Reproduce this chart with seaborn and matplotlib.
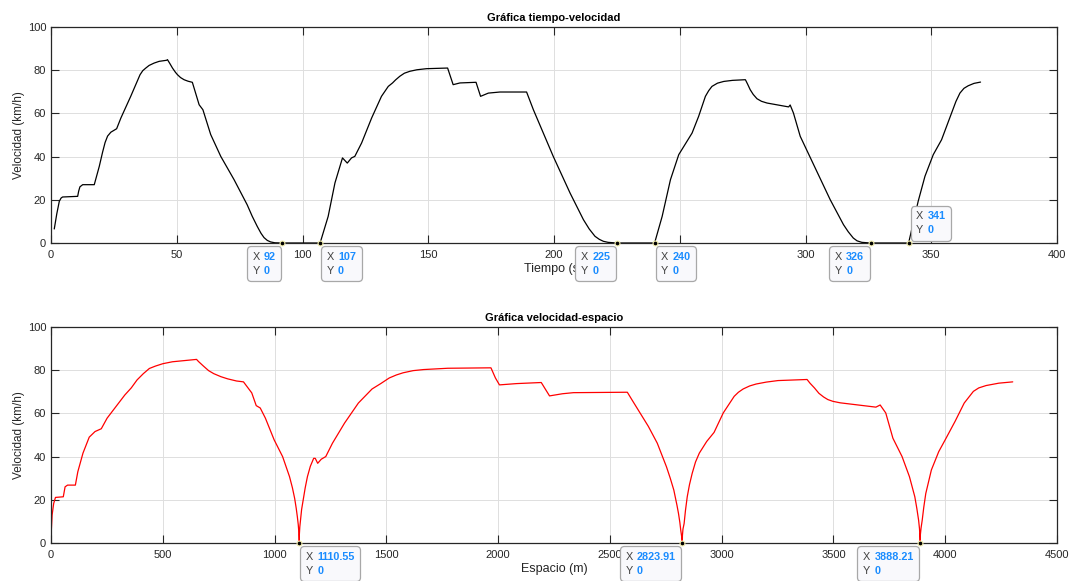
import matplotlib
matplotlib.use("Agg")
import matplotlib.pyplot as plt
import seaborn as sns
from matplotlib.offsetbox import TextArea, HPacker, VPacker, AnnotationBbox

# ── Datos ─────────────────────────────────────────────────────
# Gráfica tiempo-velocidad (cuatro tramos entre paradas)
tiempo = [1.3, 2.3, 3.3, 4.0, 4.6, 10.6, 11.0, 11.5, 12.6, 17.2, 19.2, 20.5,
          21.5, 22.5, 23.8, 26.1, 27.8, 31.7, 35.4, 36.5, 37.7, 39.0, 41.0,
          43.0, 46.0, 46.3, 47.3, 48.3, 49.5, 50.3, 51.5, 52.9, 54.5, 56.2,
          58.9, 60.4, 63.5, 67.5, 72.8, 78.0, 80.0, 82.0, 83.5, 84.7, 86.0,
          87.3, 89.0, 92.0,
          107.0, 110.2, 112.9, 115.9, 117.8, 119.5, 120.8, 123.5, 127.5, 131.4,
          134.1, 135.8, 137.0, 138.7, 140.5, 142.7, 145.5, 149.3, 157.7, 159.9,
          162.6, 169.0, 170.8, 173.9, 178.5, 189.1, 191.8, 199.7, 206.4, 211.7,
          214.0, 216.3, 218.0, 219.6, 221.5, 225.0,
          240.0, 243.0, 246.3, 249.6, 254.9, 257.5, 260.2, 261.5, 262.8, 265.0,
          267.5, 271.0, 276.1, 277.0, 278.0, 279.2, 280.7, 282.5, 284.7, 289.0,
          293.3, 293.9, 295.2, 297.9, 303.2, 309.8, 315.1, 317.0, 319.0, 320.5,
          322.4, 326.0,
          341.0, 344.8, 347.5, 350.8, 354.1, 358.1, 359.8, 361.4, 363.0, 364.7,
          367.0, 369.6]
vel_t = [6.5, 13.5, 19.3, 20.8, 21.3, 21.6, 24.0, 26.0, 27.0, 27.0, 35.5, 42.0,
         46.5, 49.5, 51.3, 52.9, 57.9, 67.9, 77.9, 79.8, 81.0, 82.2, 83.3,
         84.1, 84.6, 84.9, 83.0, 81.0, 79.0, 77.9, 76.6, 75.6, 74.9, 74.4,
         64.0, 61.7, 50.2, 40.1, 29.3, 17.7, 12.4, 7.7, 4.5, 2.5, 1.2,
         0.5, 0.1, 0.0,
         0.0, 12.3, 27.8, 39.4, 37.0, 39.4, 40.1, 46.3, 57.9, 67.9,
         72.5, 74.1, 75.5, 77.2, 78.6, 79.5, 80.2, 80.7, 81.0, 73.3,
         74.1, 74.4, 67.9, 69.4, 69.9, 69.9, 61.7, 40.1, 23.1, 10.8,
         6.5, 3.1, 1.7, 0.8, 0.3, 0.0,
         0.0, 12.3, 29.3, 40.9, 50.9, 58.6, 67.9, 70.5, 72.5, 74.0,
         74.8, 75.3, 75.6, 73.5, 71.0, 68.8, 66.8, 65.6, 64.8, 63.9,
         63.0, 63.9, 60.2, 49.4, 36.3, 20.1, 8.5, 5.2, 2.3, 1.0,
         0.3, 0.0,
         0.0, 19.3, 30.9, 40.9, 47.8, 60.2, 65.5, 69.4, 71.6, 72.8,
         73.9, 74.5]

# Gráfica velocidad-espacio
espacio = [1.5, 5, 12, 20, 55, 63, 74, 109, 120, 143, 171, 197, 225, 251, 297,
           330, 359, 385, 413, 440, 467, 500, 543, 600, 651, 660, 682, 705,
           728, 760, 790, 830, 861, 898, 918, 936, 959, 998, 1036, 1067, 1080,
           1090, 1097, 1102, 1106, 1109, 1110.55,
           1111, 1113, 1116, 1121, 1128, 1137, 1147, 1160, 1175, 1182, 1193,
           1209, 1229, 1259, 1313, 1375, 1436, 1475, 1513, 1545, 1575, 1620,
           1667, 1775, 1968, 1988, 2006, 2083, 2193, 2230, 2288, 2337, 2578,
           2598, 2631, 2672, 2712, 2753, 2770, 2786, 2800, 2807, 2813, 2817,
           2821, 2823.91,
           2824.5, 2827, 2832, 2838, 2846, 2856, 2868, 2883, 2900, 2933, 2966,
           3007, 3056, 3075, 3096, 3125, 3154, 3200, 3252, 3382, 3395, 3415,
           3435, 3456, 3475, 3497, 3530, 3578, 3690, 3709, 3734, 3766, 3807,
           3840, 3864, 3873, 3881, 3885, 3888.21,
           3889, 3892, 3897, 3904, 3913, 3938, 3971, 4000, 4044, 4085, 4126,
           4150, 4183, 4240, 4302]
vel_e = [5.9, 13.0, 18.3, 21.1, 21.4, 26.0, 26.8, 26.8, 33.0, 41.6, 49.0, 51.6,
         52.9, 57.8, 64.0, 68.5, 71.8, 75.5, 78.4, 80.8, 81.9, 83.0, 83.9,
         84.5, 85.0, 84.0, 81.9, 79.8, 78.4, 77.0, 76.0, 75.0, 74.6, 69.5,
         63.6, 62.5, 57.8, 47.8, 40.0, 30.7, 25.5, 20.6, 16.0, 12.1, 8.5,
         4.5, 0.0,
         4.0, 7.5, 10.5, 15.5, 19.8, 25.5, 30.7, 35.5, 39.2, 39.2, 36.9,
         38.8, 40.0, 46.2, 55.5, 64.8, 71.3, 73.8, 76.4, 77.8, 78.8, 79.8,
         80.3, 80.9, 81.1, 76.4, 73.2, 73.8, 74.3, 68.1, 69.1, 69.6, 69.8,
         66.4, 60.9, 54.0, 46.2, 35.3, 30.0, 24.5, 17.5, 13.6, 9.5, 5.9,
         3.0, 0.0,
         3.5, 6.5, 9.0, 15.0, 21.4, 27.0, 32.2, 37.5, 41.6, 47.0, 51.2,
         60.2, 67.9, 69.8, 71.3, 72.7, 73.6, 74.5, 75.2, 75.7, 74.0, 71.8,
         69.3, 67.6, 66.4, 65.6, 64.9, 64.3, 62.9, 63.9, 60.2, 48.5, 40.0,
         30.7, 21.4, 16.0, 10.5, 6.5, 0.0,
         4.0, 7.0, 10.5, 16.5, 22.9, 33.8, 42.3, 47.8, 56.3, 64.8, 70.2,
         71.8, 72.9, 74.0, 74.6]

# Data tips: (x, texto mostrado, posición de la caja)
tips_t = [(92, "92", "bl"), (107, "107", "br"), (225, "225", "bl"),
          (240, "240", "br"), (326, "326", "bl"), (341, "341", "ar")]
tips_e = [(1110.55, "1110.55", "br"), (2823.91, "2823.91", "bl"),
          (3888.21, "3888.21", "bl")]

# ── Estilo tipo MATLAB ────────────────────────────────────────
sns.set_theme(style="ticks")
plt.rcParams["font.family"] = ["Liberation Sans", "DejaVu Sans"]
INK = "#262626"
TIP_BLUE = "#1a8cff"


def style_axes(ax, xmax, xstep, xlabel, title):
    ax.set_xlim(0, xmax)
    ax.set_ylim(0, 100)
    ax.set_xticks(range(0, xmax + 1, xstep))
    ax.set_yticks(range(0, 101, 20))
    ax.grid(True, color="#dedede", lw=0.7)
    ax.set_axisbelow(True)
    for s in ax.spines.values():
        s.set_visible(True)
        s.set_color(INK)
        s.set_linewidth(0.9)
    ax.tick_params(direction="in", top=True, right=True, length=5.5,
                   width=0.8, color=INK, labelsize=8, labelcolor=INK)
    ax.tick_params(axis="x", pad=5)
    ax.tick_params(axis="y", pad=3.5)
    ax.set_xlabel(xlabel, fontsize=9, color=INK, labelpad=2)
    ax.set_ylabel("Velocidad (km/h)", fontsize=8.5, color=INK, labelpad=2)
    ax.set_title(title, fontsize=8, fontweight="bold", color="black", pad=4)


def data_tip(ax, x, label, where):
    ax.plot([x], [0], marker="o", ms=3.5, mfc="black", mec="#f4f0b0",
            mew=0.8, clip_on=False, zorder=12)
    rows = []
    for name, val in (("X", label), ("Y", "0")):
        rows.append(HPacker(children=[
            TextArea(name, textprops=dict(color="#404040", fontsize=7.8)),
            TextArea(val, textprops=dict(color=TIP_BLUE, fontsize=7.8,
                                         fontweight="bold")),
        ], align="baseline", pad=0, sep=3))
    box = VPacker(children=rows, align="left", pad=4, sep=3)
    align, off = {"bl": ((1, 1), (-1, -3)),
                  "br": ((0, 1), (1, -3)),
                  "ar": ((0, 0), (2, 2))}[where]
    ab = AnnotationBbox(box, (x, 0), xybox=off, boxcoords="offset pixels",
                        box_alignment=align, frameon=True, pad=0,
                        annotation_clip=False, zorder=11,
                        bboxprops=dict(boxstyle="round,pad=0,rounding_size=0.25",
                                       fc="#f9f9fc", ec="#a8a8a8", lw=0.9))
    ax.add_artist(ab)


# ── Figura ────────────────────────────────────────────────────
fig = plt.figure(figsize=(10.73, 5.81), dpi=100)
ax1 = fig.add_axes([51 / 1073, 1 - 243 / 581, 1006 / 1073, 216 / 581])
ax2 = fig.add_axes([51 / 1073, 1 - 543 / 581, 1006 / 1073, 216 / 581])

sns.lineplot(x=tiempo, y=vel_t, ax=ax1, color="black", lw=0.9,
             estimator=None, sort=False)
style_axes(ax1, 400, 50, "Tiempo (s)", "Gráfica tiempo-velocidad")
for x, lab, where in tips_t:
    data_tip(ax1, x, lab, where)

sns.lineplot(x=espacio, y=vel_e, ax=ax2, color="red", lw=0.9,
             estimator=None, sort=False)
style_axes(ax2, 4500, 500, "Espacio (m)", "Gráfica velocidad-espacio")
for x, lab, where in tips_e:
    data_tip(ax2, x, lab, where)

fig.savefig("out.png", dpi=100, facecolor="white")
